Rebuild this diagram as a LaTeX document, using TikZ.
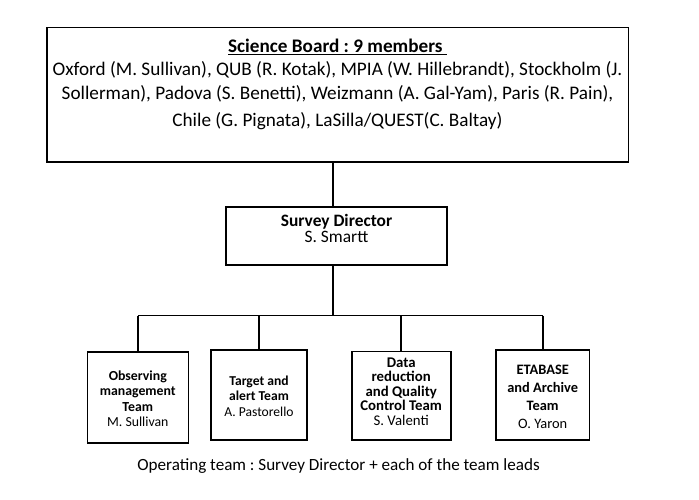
\documentclass[tikz,border=0pt]{standalone}
\usepackage{fontspec}
\setmainfont{Carlito}
\frenchspacing
\begin{document}
\begin{tikzpicture}[x=1pt,y=-1pt,
  box/.style={draw, line width=1.6pt, inner sep=0pt},
  conn/.style={line width=1.6pt},
  txt/.style={align=center, inner sep=0pt}]
\useasboundingbox (0,0) rectangle (699,499);
% boxes
\node[box, minimum width=581.6pt, minimum height=134.4pt] (board) at (337.5,94.5) {};
\node[box, minimum width=221pt, minimum height=58pt] (dir) at (336.5,236) {};
\node[box, minimum width=101pt, minimum height=91pt] (b1) at (137.8,397.2) {};
\node[box, minimum width=96pt, minimum height=90pt] (b2) at (259,395) {};
\node[box, minimum width=99pt, minimum height=88.3pt] (b3) at (401.2,395.8) {};
\node[box, minimum width=93.3pt, minimum height=90pt] (b4) at (542.7,395) {};
% texts
\node[txt, font=\fontsize{19.2}{24}\selectfont] (boardtxt) at (337.5,84.5)
  {\textbf{\underline{Science Board : 9 members\ }}\\[-1pt]
   Oxford (M. Sullivan), QUB (R. Kotak), MPIA (W. Hillebrandt), Stockholm (J.\\
   Sollerman), Padova (S. Benetti), Weizmann (A. Gal-Yam), Paris (R. Pain),\\[3pt]
   Chile (G. Pignata), LaSilla/QUEST(C. Baltay)};
\node[txt, font=\fontsize{17.4}{16.7}\selectfont] (dirtxt) at (336.5,228.4)
  {\textbf{Survey Director}\\S. Smartt};
\node[txt, font=\fontsize{13.8}{15.5}\selectfont] (b1txt) at (137.8,398.5)
  {\textbf{Observing}\\\textbf{management}\\\textbf{Team}\\M. Sullivan};
\node[txt, font=\fontsize{13.6}{15.5}\selectfont] (b2txt) at (259,396)
  {\textbf{Target and}\\\textbf{alert Team}\\A. Pastorello};
\node[txt, font=\fontsize{14.8}{14.5}\selectfont] (b3txt) at (401.2,391.5)
  {\textbf{Data}\\\textbf{reduction}\\\textbf{and Quality}\\\textbf{Control Team}\\S. Valenti};
\node[txt, font=\fontsize{14.4}{18}\selectfont] (b4txt) at (542.7,396.5)
  {\textbf{ETABASE}\\\textbf{and Archive}\\\textbf{Team}\\O. Yaron};
\node[txt, font=\fontsize{17.1}{20}\selectfont] (caption) at (338.5,465.7)
  {Operating team : Survey Director + each of the team leads};
% connectors
\coordinate (j) at (332.7,315.5);
\draw[conn] (j |- board.south) -- (j |- dir.north);
\draw[conn] (j |- dir.south) -- (j);
\draw[conn] (b1.north |- j) -- (b4.north |- j);
\draw[conn] (b1.north |- j) -- (b1.north);
\draw[conn] (b2.north |- j) -- (b2.north);
\draw[conn] (b3.north |- j) -- (b3.north);
\draw[conn] (b4.north |- j) -- (b4.north);
\end{tikzpicture}
\end{document}
